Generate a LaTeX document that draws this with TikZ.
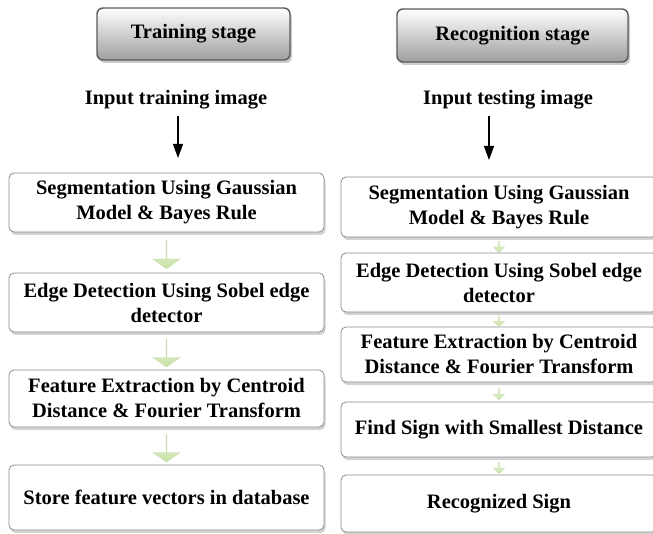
\documentclass[tikz,border=0pt]{standalone}
\usepackage{fontspec}
\setmainfont{Liberation Serif}[BoldFont={Liberation Serif Bold}]
\newfontfamily\figfont{Liberation Serif Bold}
\usetikzlibrary{shadows,shapes.arrows,arrows.meta,calc}

\tikzset{
  stagebox/.style={draw=black!65,line width=1.4pt,rounded corners=6pt,
    top color=white,bottom color=black!38,
    drop shadow={shadow xshift=2pt,shadow yshift=-3pt,opacity=0.4},
    font=\figfont\fontsize{20.5}{25}\selectfont},
  procbox/.style={draw=black!45,line width=0.8pt,rounded corners=5pt,fill=white,
    drop shadow={shadow xshift=1.5pt,shadow yshift=-3pt,opacity=0.35},
    align=center,inner sep=2pt,font=\figfont\fontsize{20.5}{25}\selectfont},
  inputtext/.style={font=\figfont\fontsize{20.5}{25}\selectfont},
  inarrow/.style={-{Triangle[length=14pt,width=10pt]},line width=1.2pt,shorten <=3pt},
  flowarrow/.style={single arrow,shape border rotate=270,inner sep=0pt,
    draw={rgb,255:red,200;green,220;blue,175},line width=0.4pt,
    top color={rgb,255:red,236;green,245;blue,222},bottom color={rgb,255:red,200;green,226;blue,165}},
}

\begin{document}
\begin{tikzpicture}[x=1pt,y=-1pt]
    \useasboundingbox (0,0) rectangle (653,534);

    % Stage headers
    \node[stagebox,minimum width=193pt,minimum height=52pt] (trainHead) at (193.5,34) {Training stage};
    \node[stagebox,minimum width=231pt,minimum height=53pt] (testHead) at (512.5,35.5) {Recognition stage};

    % Input images
    \node[inputtext] (inTrain) at (176,100) {Input training image};
    \node[inputtext] (inTest) at (508,100) {Input testing image};
    \coordinate (trainTip) at (178,158);
    \coordinate (testTip) at (489,160);
    \draw[inarrow] (inTrain.south -| trainTip) -- (trainTip);
    \draw[inarrow] (inTest.south -| testTip) -- (testTip);

    % Training stage boxes
    \node[procbox,minimum width=315pt,minimum height=59pt] (segTrain) at (166.5,202.5)
        {Segmentation Using Gaussian\\Model \& Bayes Rule};
    \node[procbox,minimum width=315pt,minimum height=59pt] (edgeTrain) at (166.5,302.5)
        {Edge Detection Using Sobel edge\\detector};
    \node[procbox,minimum width=315pt,minimum height=57pt] (featTrain) at (166.5,398.5)
        {Feature Extraction by Centroid\\Distance \& Fourier Transform};
    \node[procbox,minimum width=315pt,minimum height=65pt] (storeTrain) at (166.5,497.5)
        {Store feature vectors in database};

    % Recognition stage boxes
    \node[procbox,minimum width=316pt,minimum height=60pt] (segTest) at (499,207)
        {Segmentation Using Gaussian\\Model \& Bayes Rule};
    \node[procbox,minimum width=316pt,minimum height=59pt] (edgeTest) at (499,282.5)
        {Edge Detection Using Sobel edge\\detector};
    \node[procbox,minimum width=316pt,minimum height=55pt] (featTest) at (499,354.5)
        {Feature Extraction by Centroid\\Distance \& Fourier Transform};
    \node[procbox,minimum width=316pt,minimum height=55pt] (findTest) at (499,429.5)
        {Find Sign with Smallest Distance};
    \node[procbox,minimum width=316pt,minimum height=57pt] (signTest) at (499,503.5)
        {Recognized Sign};

    % Block arrows, training
    \foreach \a/\b in {segTrain/edgeTrain,edgeTrain/featTrain,featTrain/storeTrain}
      \node[flowarrow,minimum height=28pt,minimum width=27pt,single arrow head extend=7.5pt,
        single arrow tip angle=110]
        at ($(\a.south)!0.55!(\b.north)$) {};

    % Block arrows, recognition
    \foreach \a/\b in {segTest/edgeTest,edgeTest/featTest,featTest/findTest,findTest/signTest}
      \node[flowarrow,minimum height=11pt,minimum width=11pt,single arrow head extend=1pt]
        at ($(\a.south)!0.6!(\b.north)$) {};
\end{tikzpicture}
\end{document}
